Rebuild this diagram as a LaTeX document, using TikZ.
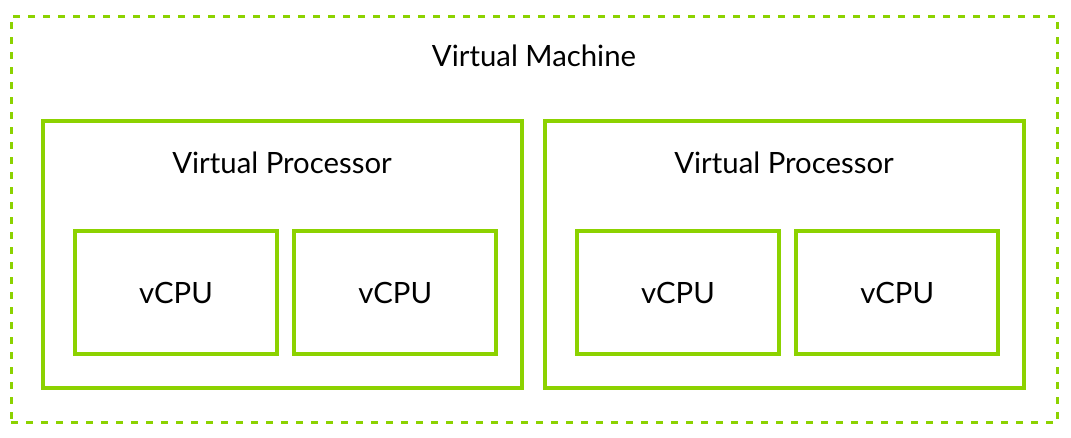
\documentclass[tikz,border=0pt]{standalone}
\usepackage{fontspec}
\setmainfont{Lato}
\usepackage{xcolor}
\usetikzlibrary{positioning}
\definecolor{vmgreen}{RGB}{140,210,0}

\begin{document}
\begin{tikzpicture}[x=0.75pt, y=-0.75pt, node distance=10.3pt and 10.3pt, every node/.style={font=\fontsize{22}{26}\selectfont}, frame/.style={draw=vmgreen, line width=2.6pt, inner sep=0pt}, vproc/.style={frame, minimum width=359pt, minimum height=200pt}, vcpu/.style={frame, minimum width=151.5pt, minimum height=92pt}, title/.style={inner sep=0pt}]
\useasboundingbox (0,0) rectangle (1071,438);
\node[draw=vmgreen, line width=2.25pt, dash pattern=on 5.25pt off 6pt, minimum width=784.5pt, minimum height=305pt, inner sep=0pt] (vm) at (534,219.5) {};
\node[title] (vmlabel) at (534,56) {Virtual Machine};
\node[vproc] (vp1) at (282.5,254.5) {};
\node[vproc] (vp2) at (784.5,254.5) {};
\node[title] (vp1label) at (282,163) {Virtual Processor};
\node[title] (vp2label) at (784,163) {Virtual Processor};
\node[vcpu] (cpu1) at (176,292.5) {vCPU};
\node[vcpu, right=of cpu1] (cpu2) {vCPU};
\node[vcpu] (cpu3) at (678,292.5) {vCPU};
\node[vcpu, right=of cpu3] (cpu4) {vCPU};
\end{tikzpicture}
\end{document}
